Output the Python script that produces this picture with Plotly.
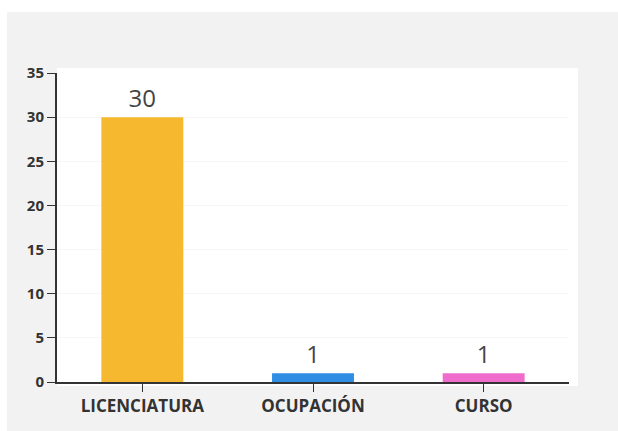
import plotly.graph_objects as go

categories = ["LICENCIATURA", "OCUPACIÓN", "CURSO"]
values = [30, 1, 1]
bar_colors = ["#f5b82e", "#2f8de4", "#ef6ccd"]
y_ticks = [0, 5, 10, 15, 20, 25, 30, 35]

W, H = 618, 431
L, R, T, B = 57, 569, 73, 382  # plot area pixel bounds
pw, ph = R - L, B - T

def px_x(p):
    return (p - L) / pw

def px_y(p):
    return (B - p) / ph

fig = go.Figure(go.Bar(
    x=categories, y=values,
    marker=dict(color=bar_colors, line=dict(width=0)),
    width=0.48,
    text=[str(v) for v in values],
    textposition="outside",
    textfont=dict(family="Open Sans", size=24, color="#444444"),
    cliponaxis=False,
))

fig.update_layout(
    width=W, height=H,
    margin=dict(l=L, r=W - R, t=T, b=H - B, pad=0),
    paper_bgcolor="white",
    plot_bgcolor="rgba(0,0,0,0)",
    showlegend=False,
    font=dict(family="Open Sans", color="#333333"),
    shapes=[
        dict(type="rect", xref="paper", yref="paper", layer="below",
             x0=px_x(7), x1=px_x(700), y0=px_y(500), y1=px_y(12),
             fillcolor="#f2f2f2", line=dict(width=0)),
        dict(type="rect", xref="paper", yref="paper", layer="below",
             x0=px_x(57), x1=px_x(578), y0=px_y(386), y1=px_y(68),
             fillcolor="white", line=dict(width=0)),
    ],
)

fig.update_xaxes(
    type="category", range=[-0.5, 2.5],
    showline=True, linecolor="#333333", linewidth=2,
    ticks="outside", ticklen=8, tickwidth=1, tickcolor="#333333",
    tickfont=dict(family="Open Sans", size=17, color="#333333", weight="bold"),
    showgrid=False,
)
fig.update_yaxes(
    range=[0, 35], tickvals=y_ticks,
    showline=True, linecolor="#333333", linewidth=2,
    ticks="outside", ticklen=8, tickwidth=1, tickcolor="#333333",
    tickfont=dict(family="Open Sans", size=15, color="#333333", weight="bold"),
    showgrid=True, gridcolor="#f6f6f6", gridwidth=1,
    zeroline=False,
)

fig.write_html(
    "out.html",
    config={"displayModeBar": False},
    post_script="document.body.style.margin='0';document.body.style.overflow='hidden';",
)
